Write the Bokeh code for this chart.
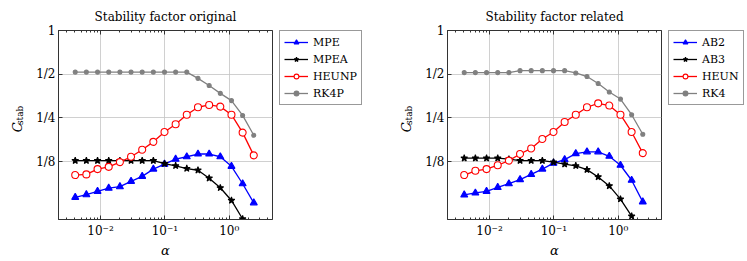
import math
from bokeh.plotting import figure
from bokeh.layouts import row
from bokeh.models import Range1d, FixedTicker, Legend, LegendItem, LogAxis
from bokeh.core.properties import value
from bokeh.embed import file_html
from bokeh.resources import INLINE

# ---------------- data ----------------
alpha = [0.00404, 0.00602, 0.00898, 0.0134, 0.0200, 0.0298, 0.0444, 0.0662,
         0.0987, 0.147, 0.219, 0.327, 0.488, 0.727, 1.084, 1.617, 2.41]

# left panel: "Stability factor original"
mpe = [0.0709, 0.074, 0.078, 0.082, 0.084, 0.0914, 0.0989, 0.111, 0.120,
       0.130, 0.135, 0.141, 0.141, 0.135, 0.116, 0.088, 0.065]
mpea = [0.127, 0.127, 0.127, 0.127, 0.127, 0.127, 0.127, 0.127, 0.121,
        0.117, 0.112, 0.109, 0.096, 0.0825, 0.0675, 0.0503, 0.036]
heunp = [0.101, 0.102, 0.111, 0.115, 0.124, 0.135, 0.151, 0.171, 0.200,
         0.226, 0.263, 0.296, 0.307, 0.299, 0.263, 0.198, 0.138]
rk4p = [0.517, 0.517, 0.517, 0.517, 0.517, 0.517, 0.517, 0.517, 0.517,
        0.517, 0.517, 0.468, 0.418, 0.369, 0.329, 0.260, 0.190]

# right panel: "Stability factor related"
ab2 = [0.0737, 0.076, 0.078, 0.083, 0.088, 0.094, 0.102, 0.111, 0.122,
       0.129, 0.142, 0.146, 0.146, 0.136, 0.118, 0.093, 0.066]
ab3 = [0.132, 0.132, 0.132, 0.132, 0.130, 0.127, 0.127, 0.127, 0.124,
       0.120, 0.117, 0.110, 0.098, 0.085, 0.069, 0.0527, 0.038]
heun = [0.101, 0.108, 0.111, 0.118, 0.127, 0.141, 0.154, 0.179, 0.200,
        0.234, 0.263, 0.296, 0.315, 0.304, 0.263, 0.200, 0.143]
rk4 = [0.513, 0.513, 0.513, 0.513, 0.513, 0.529, 0.529, 0.529, 0.529,
       0.529, 0.510, 0.482, 0.431, 0.377, 0.337, 0.263, 0.193]

x_major = [0.001, 0.01, 0.1, 1.0, 10.0]
x_labels = {0.001: "10\u207b\u00b3", 0.01: "10\u207b\u00b2", 0.1: "10\u207b\u00b9",
            1.0: "10\u2070", 10.0: "10\u00b9"}
y_major = [0.125, 0.25, 0.5, 1.0]
y_labels = {0.125: "1/8", 0.25: "1/4", 0.5: "1/2", 1.0: "1"}

FONT = "DejaVu Serif"
FRAME_C = "#333333"
GRID_C = "#c4c4c4"
H = 260

x_minor = [m * d for d in x_major[:-1] for m in range(2, 10)]


def style_axis(ax):
    ax.axis_line_color = FRAME_C
    ax.major_tick_line_color = FRAME_C
    ax.minor_tick_line_color = FRAME_C
    ax.major_tick_in = 4
    ax.major_tick_out = 0
    ax.minor_tick_in = 2
    ax.minor_tick_out = 0
    ax.major_label_text_font = FONT
    ax.major_label_text_font_size = "12px"
    ax.major_label_text_color = "#000000"


def make_panel(title, series):
    p = figure(title=title, x_axis_type="log", y_axis_type="log",
               x_range=Range1d(0.00222, 4.71), y_range=Range1d(0.0499, 1.0),
               width=253, height=H,
               min_border_left=32, min_border_right=7,
               min_border_top=30, min_border_bottom=36,
               output_backend="svg", toolbar_location=None)
    p.title.text_font = FONT
    p.title.text_font_size = "12px"
    p.title.text_font_style = "normal"
    p.title.align = "center"
    p.title.text_color = "#000000"
    p.title.standoff = 13
    p.outline_line_color = FRAME_C
    p.outline_line_width = 1

    xt = FixedTicker(ticks=x_major, minor_ticks=x_minor)
    yt = FixedTicker(ticks=y_major, minor_ticks=[])
    xa = p.xaxis[0]
    xa.ticker = xt
    xa.major_label_overrides = x_labels
    ya = p.yaxis[0]
    ya.ticker = yt
    ya.major_label_overrides = y_labels
    style_axis(xa)
    style_axis(ya)
    xa.major_label_standoff = 4
    ya.major_label_standoff = 3
    xa.axis_label = "\u03b1"
    xa.axis_label_text_font = FONT
    xa.axis_label_text_font_style = "italic"
    xa.axis_label_text_font_size = "13px"
    xa.axis_label_text_color = "#000000"
    xa.axis_label_standoff = 2

    top = LogAxis(ticker=xt, major_label_text_font_size="1px",
                  major_label_text_alpha=0, major_label_standoff=0)
    style_axis(top)
    top.major_label_text_font_size = "1px"
    p.add_layout(top, "above")

    p.xgrid.ticker = xt
    p.ygrid.ticker = yt
    p.xgrid.grid_line_color = GRID_C
    p.ygrid.grid_line_color = GRID_C
    p.xgrid.grid_line_width = 0.8
    p.ygrid.grid_line_width = 0.8

    for name, vals, color, marker, msize, fill in series:
        p.line(alpha, vals, line_color=color, line_width=1.3)
        p.scatter(alpha, vals, marker=marker, size=msize, line_color=color,
                  fill_color=fill, line_width=1.1)
    return p


def make_legend(series, w):
    # the series are drawn again here only to carry the legend entries;
    # the view range lies outside the data so nothing shows but the legend
    q = figure(width=w, height=H, x_range=Range1d(-10, -9), y_range=Range1d(-10, -9),
               x_axis_location=None, y_axis_location=None,
               min_border_left=0, min_border_right=0, min_border_top=29,
               min_border_bottom=0, output_backend="svg", toolbar_location=None)
    q.outline_line_color = None
    q.xgrid.visible = False
    q.ygrid.visible = False
    items = []
    for name, vals, color, marker, msize, fill in series:
        lr = q.line(alpha, vals, line_color=color, line_width=1.3)
        sr = q.scatter(alpha, vals, marker=marker, size=msize, line_color=color,
                       fill_color=fill, line_width=1.1)
        items.append(LegendItem(label=name, renderers=[lr, sr]))
    leg = Legend(items=items, location="top_left")
    leg.label_text_font = FONT
    leg.label_text_font_size = "11px"
    leg.label_text_color = "#000000"
    leg.border_line_color = FRAME_C
    leg.border_line_width = 1
    leg.glyph_width = 24
    leg.glyph_height = 12
    leg.label_height = 14
    leg.spacing = 3
    leg.padding = 4
    leg.margin = 0
    leg.label_standoff = 5
    q.add_layout(leg)
    return q


def make_ylabel():
    r = figure(width=26, height=H, x_range=Range1d(0, 26), y_range=Range1d(0, H),
               x_axis_location=None, y_axis_location=None,
               min_border_left=0, min_border_right=0, min_border_top=0,
               min_border_bottom=0, output_backend="svg", toolbar_location=None)
    r.outline_line_color = None
    r.xgrid.visible = False
    r.ygrid.visible = False
    r.text(x=[17], y=[H - 140], text=["C"], angle=math.pi / 2,
           text_font=value(FONT), text_font_style="italic", text_font_size="13px",
           text_align="left", text_baseline="alphabetic", text_color="#000000")
    r.text(x=[19.5], y=[H - 130], text=["stab"], angle=math.pi / 2,
           text_font=value(FONT), text_font_size="9px",
           text_align="left", text_baseline="alphabetic", text_color="#000000")
    return r


left_series = [
    ("MPE", mpe, "#0000ff", "triangle", 7, "#0000ff"),
    ("MPEA", mpea, "#000000", "star", 7, "#000000"),
    ("HEUNP", heunp, "#ff0000", "circle", 7, "#ffffff"),
    ("RK4P", rk4p, "#808080", "circle", 4, "#808080"),
]
right_series = [
    ("AB2", ab2, "#0000ff", "triangle", 7, "#0000ff"),
    ("AB3", ab3, "#000000", "star", 7, "#000000"),
    ("HEUN", heun, "#ff0000", "circle", 7, "#ffffff"),
    ("RK4", rk4, "#808080", "circle", 4, "#808080"),
]

layout = row(make_ylabel(), make_panel("Stability factor original", left_series),
             make_legend(left_series, 110),
             make_ylabel(), make_panel("Stability factor related", right_series),
             make_legend(right_series, 77))
open("out.html", "w").write(file_html(layout, INLINE))
